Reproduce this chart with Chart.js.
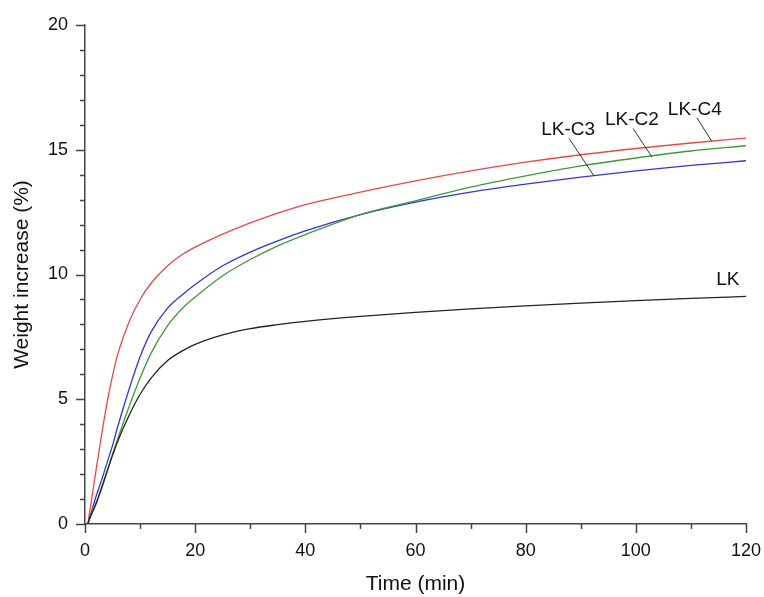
<!DOCTYPE html>
<html>
<head>
<meta charset="utf-8">
<script src="https://cdn.jsdelivr.net/npm/chart.js@4.4.1/dist/chart.umd.min.js"></script>
<style>
  html, body { margin: 0; padding: 0; background: #fff; }
  #wrap { width: 764px; height: 597px; }
</style>
</head>
<body>
<div id="wrap"><canvas id="uptakeChart"></canvas></div>
<script>
// time points (min)
const times = [0.5, 1, 2, 3, 4, 5, 6, 8, 10, 12, 15, 18, 20, 25, 30, 35, 40, 50, 60, 70, 80, 90, 100, 110, 120];

// weight increase (%)
const lkC4 = [0, 0.7, 2.15, 3.55, 4.85, 5.95, 6.85, 8.1, 9.0, 9.65, 10.35, 10.85, 11.1, 11.62, 12.07, 12.46, 12.8, 13.3, 13.75, 14.15, 14.5, 14.8, 15.05, 15.27, 15.47];
const lkC2 = [0, 0.3, 0.85, 1.4, 2.1, 2.8, 3.45, 4.7, 5.85, 6.85, 7.95, 8.72, 9.1, 9.95, 10.6, 11.15, 11.6, 12.4, 12.95, 13.5, 13.95, 14.35, 14.67, 14.95, 15.16];
const lkC3 = [0, 0.35, 1.1, 1.75, 2.45, 3.15, 3.95, 5.4, 6.7, 7.7, 8.65, 9.25, 9.6, 10.35, 10.9, 11.35, 11.75, 12.4, 12.9, 13.3, 13.62, 13.9, 14.15, 14.37, 14.56];
const lk   = [0, 0.3, 0.8, 1.45, 2.1, 2.75, 3.35, 4.35, 5.2, 5.85, 6.55, 6.98, 7.2, 7.58, 7.83, 7.99, 8.12, 8.32, 8.48, 8.62, 8.74, 8.85, 8.95, 9.04, 9.12];

// curve labels: text position and leader line (data coords)
const labelNames = ['LK-C3', 'LK-C2', 'LK-C4', 'LK'];
const labelAt = [[87.7, 15.8], [99.3, 16.2], [110.7, 16.6], [116.7, 9.8]];
const leaderFrom = [[87.9, 15.45], [99.5, 15.85], [111.1, 16.28], null];
const leaderTo = [[92.4, 13.95], [102.9, 14.72], [113.8, 15.33], null];

const axisColor = '#444';

function toPoints(ys) {
    return times.map((t, i) => ({ x: t, y: ys[i] }));
}

// minor/major tick marks drawn outside the axes
const tickMarks = {
    id: 'tickMarks',
    afterDraw(chart) {
        const ctx = chart.ctx;
        const xs = chart.scales.x, ys = chart.scales.y;
        ctx.save();
        ctx.strokeStyle = axisColor;
        ctx.lineWidth = 1.5;
        ctx.beginPath();
        for (let v = 0; v <= 120; v += 10) {
            const px = Math.round(xs.getPixelForValue(v)) + 0.5;
            const len = v % 20 === 0 ? 9 : 5;
            ctx.moveTo(px, ys.bottom);
            ctx.lineTo(px, ys.bottom + len);
        }
        for (let v = 0; v <= 20; v += 1) {
            const py = Math.round(ys.getPixelForValue(v)) + 0.5;
            const len = v % 5 === 0 ? 9 : 5;
            ctx.moveTo(xs.left, py);
            ctx.lineTo(xs.left - len, py);
        }
        ctx.stroke();
        ctx.restore();
    }
};

// curve name labels with leader lines
const curveLabels = {
    id: 'curveLabels',
    afterDatasetsDraw(chart) {
        const ctx = chart.ctx;
        const xs = chart.scales.x, ys = chart.scales.y;
        ctx.save();
        ctx.strokeStyle = '#333';
        ctx.lineWidth = 1;
        leaderFrom.forEach((p, i) => {
            if (!p) return;
            ctx.beginPath();
            ctx.moveTo(xs.getPixelForValue(p[0]), ys.getPixelForValue(p[1]));
            ctx.lineTo(xs.getPixelForValue(leaderTo[i][0]), ys.getPixelForValue(leaderTo[i][1]));
            ctx.stroke();
        });
        ctx.fillStyle = '#111';
        ctx.font = '19px "Liberation Sans", Arial, sans-serif';
        ctx.textAlign = 'center';
        ctx.textBaseline = 'middle';
        labelNames.forEach((name, i) => {
            ctx.fillText(name, xs.getPixelForValue(labelAt[i][0]), ys.getPixelForValue(labelAt[i][1]));
        });
        ctx.restore();
    }
};

const tickFont = { family: '"Liberation Sans", Arial, sans-serif', size: 18 };
const titleFont = { family: '"Liberation Sans", Arial, sans-serif', size: 21 };

const ctx = document.getElementById('uptakeChart').getContext('2d');
const uptakeChart = new Chart(ctx, {
    type: 'line',
    data: {
        datasets: [
            { label: 'LK', data: toPoints(lk), borderColor: '#222222' },
            { label: 'LK-C2', data: toPoints(lkC2), borderColor: '#3c9a3c' },
            { label: 'LK-C3', data: toPoints(lkC3), borderColor: '#3535d0' },
            { label: 'LK-C4', data: toPoints(lkC4), borderColor: '#e84848' }
        ]
    },
    options: {
        responsive: true,
        maintainAspectRatio: false,
        animation: false,
        layout: { padding: { top: 25, right: 18, left: 0, bottom: 0 } },
        elements: {
            point: { radius: 0 },
            line: { borderWidth: 1.3, cubicInterpolationMode: 'monotone', fill: false }
        },
        plugins: {
            legend: { display: false },
            tooltip: { enabled: false }
        },
        scales: {
            x: {
                type: 'linear',
                min: 0,
                max: 120,
                afterFit(scale) {
                    scale.height = 73;
                    scale.paddingLeft = 0;
                    scale.paddingRight = 0;
                },
                grid: { display: false, drawTicks: false },
                border: { display: true, color: axisColor, width: 1.5 },
                ticks: {
                    stepSize: 20,
                    autoSkip: false,
                    maxRotation: 0,
                    padding: 16,
                    color: '#111',
                    font: tickFont
                },
                title: {
                    display: true,
                    text: 'Time (min)',
                    color: '#111',
                    font: titleFont,
                    padding: { top: 6, bottom: 0 }
                }
            },
            y: {
                type: 'linear',
                min: 0,
                max: 20,
                afterFit(scale) {
                    scale.width = 85;
                    scale.paddingTop = 0;
                    scale.paddingBottom = 0;
                },
                grid: { display: false, drawTicks: false },
                border: { display: true, color: axisColor, width: 1.5 },
                ticks: {
                    stepSize: 5,
                    autoSkip: false,
                    padding: 17,
                    color: '#111',
                    font: tickFont
                },
                title: {
                    display: true,
                    text: 'Weight increase (%)',
                    color: '#111',
                    font: titleFont,
                    padding: { top: 10, bottom: 0 }
                }
            }
        }
    },
    plugins: [tickMarks, curveLabels]
});
</script>
</body>
</html>
